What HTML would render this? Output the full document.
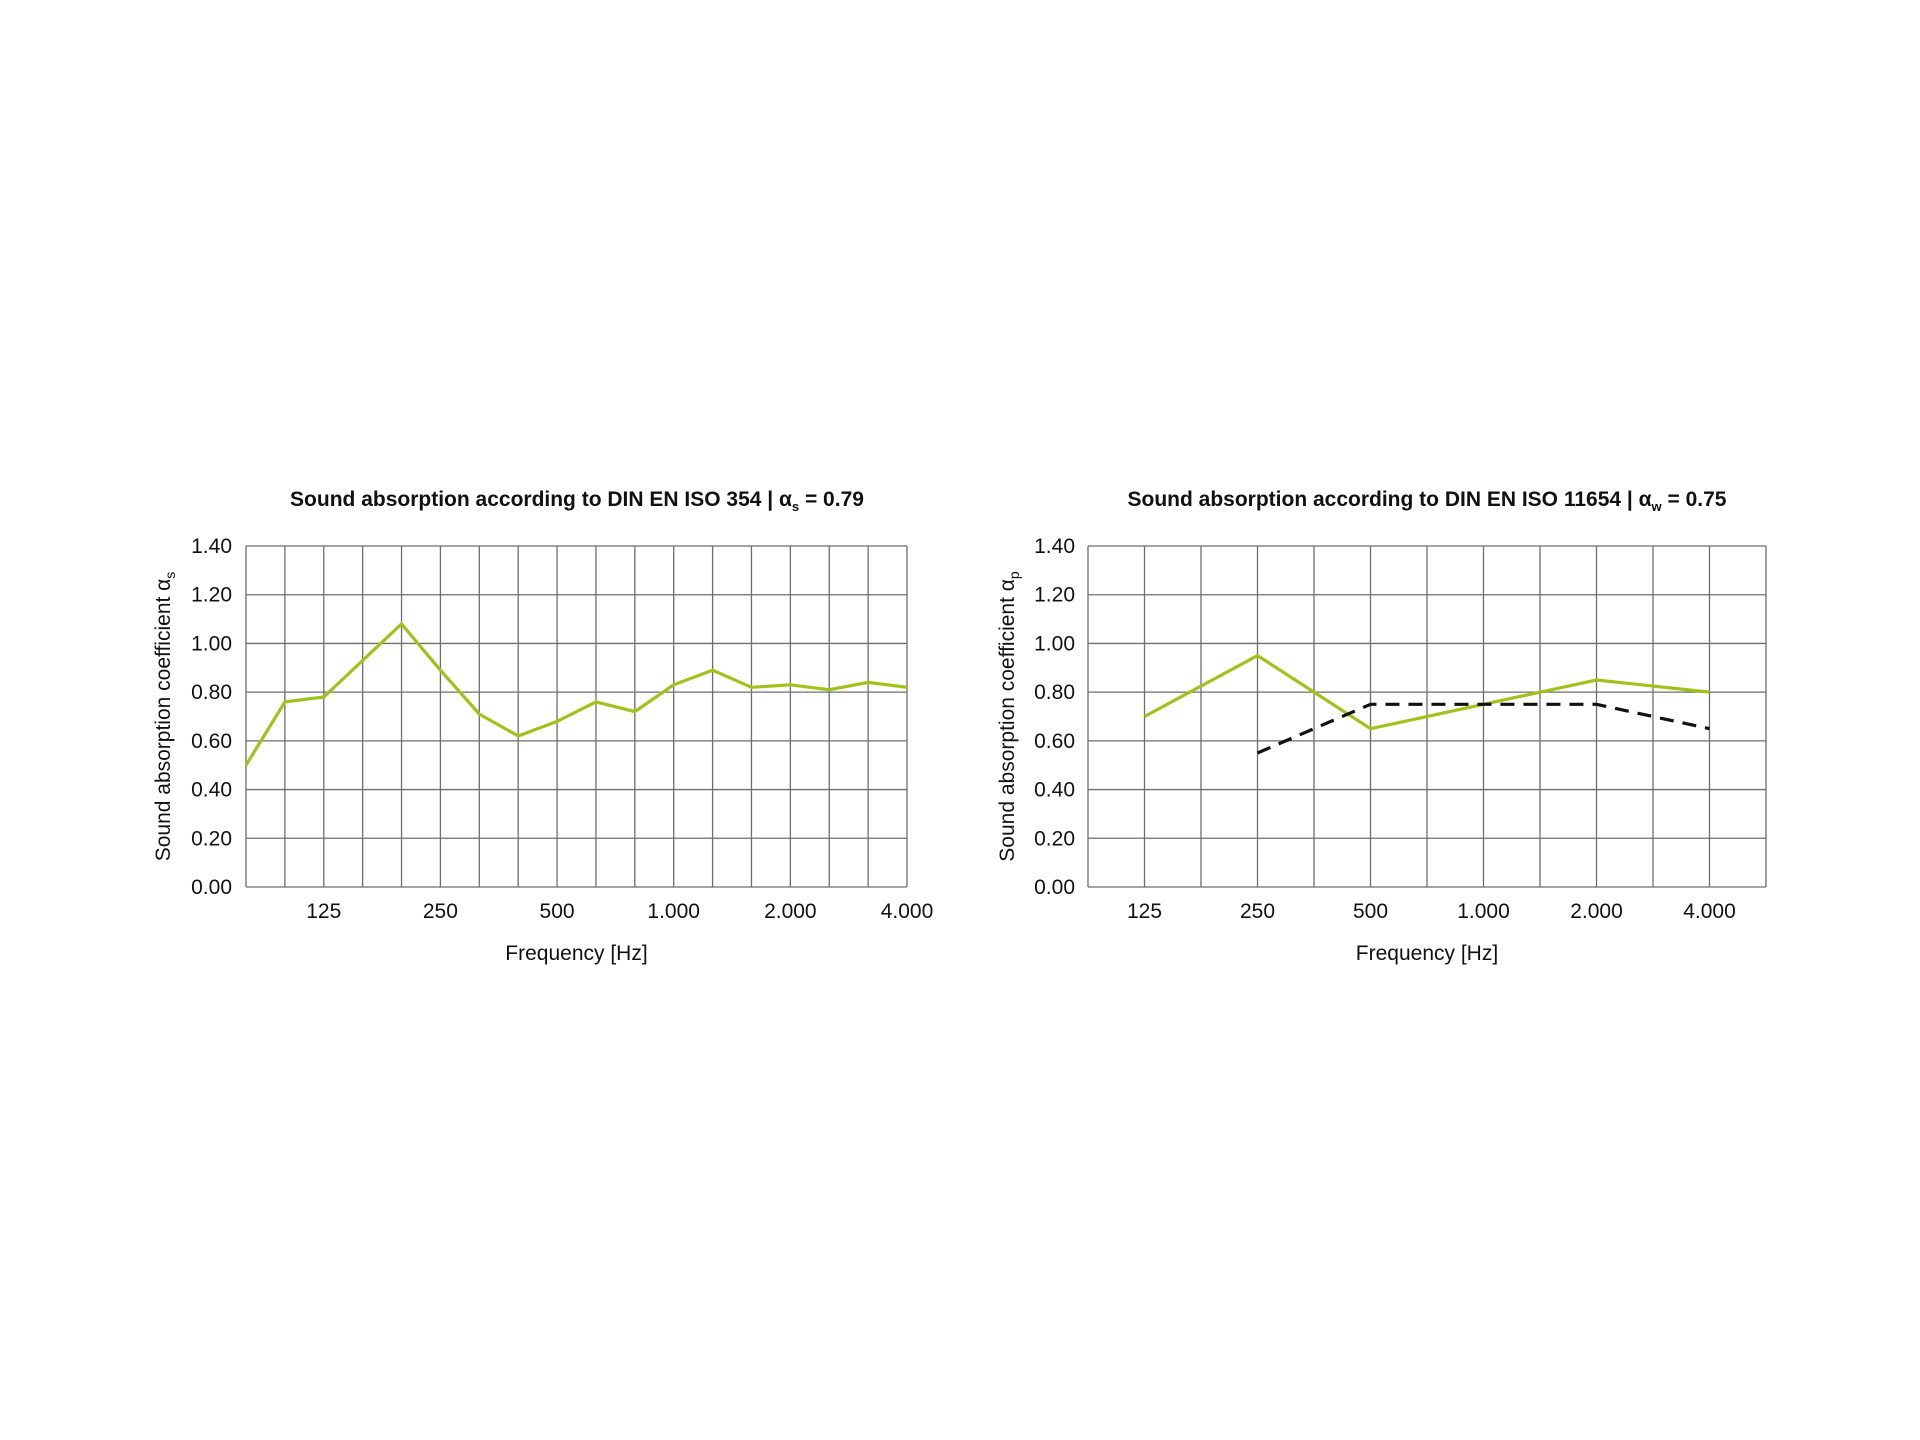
<!DOCTYPE html>
<html><head><meta charset="utf-8"><style>
html,body{margin:0;padding:0;background:#fff;}
svg{display:block;font-family:"Liberation Sans",sans-serif;}
</style></head><body>
<svg id="root" width="1920" height="1440" viewBox="0 0 1920 1440">
<g id="left"></g>
<g id="right"></g>
</svg>
<script>
const leftFreqs = ["80","100","125","160","200","250","315","400","500","630","800","1000","1250","1600","2000","2500","3150","4000"];
const leftValues = [0.50,0.76,0.78,0.93,1.08,0.89,0.71,0.62,0.68,0.76,0.72,0.83,0.89,0.82,0.83,0.81,0.84,0.82];
const leftTickLabels = ["","","125","","","250","","","500","","","1.000","","","2.000","","","4.000"];
const rightFreqs = ["","125","","250","","500","","1000","","2000","","4000"];
const rightPractical = [null,0.70,null,0.95,null,0.65,null,0.75,null,0.85,null,0.80];
const rightReference = [null,null,null,0.55,null,0.75,null,0.75,null,0.75,null,0.65];
const rightTickLabels = ["","125","","250","","500","","1.000","","2.000","","4.000"];
const yTicks = [0,0.2,0.4,0.6,0.8,1.0,1.2,1.4];
const yTickLabels = ["0.00","0.20","0.40","0.60","0.80","1.00","1.20","1.40"];

const NS="http://www.w3.org/2000/svg";
function mk(parent,tag,attrs,text){const e=document.createElementNS(NS,tag);for(const k in attrs)e.setAttribute(k,attrs[k]);if(text!==undefined)e.textContent=text;parent.appendChild(e);return e;}

function drawChart(g,cfg){
  const {x0,x1,y0,y1}=cfg;
  const yScale=v=>y1-(v/1.4)*(y1-y0);
  const grid=mk(g,'g',{});
  
  
  yTicks.forEach((t,i)=>{
    const y=yScale(t);
    const l=mk(grid,'line',{x1:x0,x2:x1,y1:y,y2:y,stroke:'#6e6e6e','stroke-width':1.3});
    
    
    const tx=mk(g,'text',{x:cfg.yLabelX,y:y+7,'text-anchor':'end','font-size':21,fill:'#111'},yTickLabels[i]);
    
    
  });
  const cols=cfg.cols;
  for(let i=0;i<=cols;i++){
    const x=x0+i*(x1-x0)/cols;
    const l=mk(grid,'line',{x1:x,x2:x,y1:y0,y2:y1,stroke:'#6e6e6e','stroke-width':1.3});
    
    
  }
  cfg.tickLabels.forEach((lab,i)=>{
    if(!lab)return;
    const tx=mk(g,'text',{x:cfg.xAt(i),y:y1+31,'text-anchor':'middle','font-size':21,fill:'#111'},lab);
    
    
  });
  const xt=mk(g,'text',{x:(x0+x1)/2,y:y1+73,'text-anchor':'middle','font-size':21,fill:'#111'},'Frequency [Hz]');
  
  
  const yt=mk(g,'text',{x:0,y:0,'text-anchor':'middle','font-size':21,fill:'#111',transform:`translate(${cfg.yTitleX},${(y0+y1)/2}) rotate(-90)`});
  yt.textContent='Sound absorption coefficient α';
  mk(yt,'tspan',{'font-size':14,dy:5},cfg.sub);
  
  
  const tt=mk(g,'text',{x:cfg.titleX,y:506,'text-anchor':'middle','font-size':21,'font-weight':'bold',fill:'#111'});
  tt.textContent=cfg.title+' α';
  mk(tt,'tspan',{'font-size':13,dy:5},cfg.titleSub);
  mk(tt,'tspan',{dy:-5},' = '+cfg.titleVal);
  
  
  cfg.series.forEach(s=>{
    let cur=[];
    s.values.forEach((v,i)=>{ if(v===null||v===undefined)return; cur.push(cfg.xAt(i).toFixed(1)+','+yScale(v).toFixed(1)); });
    const p=mk(g,'polyline',{points:cur.join(' '),fill:'none',stroke:s.color,'stroke-width':3.2,'stroke-linejoin':'miter','stroke-dasharray':s.dash||'none'});
    
    
  });
}

const L={x0:246,x1:907,y0:546,y1:887,cols:17};
L.xAt=i=>L.x0+i*(L.x1-L.x0)/17;
drawChart(document.getElementById('left'),Object.assign(L,{
  yLabelX:232,yTitleX:170,sub:'s',tickLabels:leftTickLabels,
  title:'Sound absorption according to DIN EN ISO 354 |',titleSub:'s',titleVal:'0.79',titleX:577,
  series:[{values:leftValues,color:'#9fc31a',name:'alpha-s-line'}]
}));
const R={x0:1088,x1:1766,y0:546,y1:887,cols:12};
R.xAt=i=>R.x0+i*(R.x1-R.x0)/12;
drawChart(document.getElementById('right'),Object.assign(R,{
  yLabelX:1075,yTitleX:1014,sub:'p',tickLabels:rightTickLabels,
  title:'Sound absorption according to DIN EN ISO 11654 |',titleSub:'w',titleVal:'0.75',titleX:1427,
  series:[{values:rightPractical,color:'#9fc31a',name:'alpha-p-line'},{values:rightReference,color:'#111',dash:'14 9',name:'reference-curve'}]
}));
</script>
</body></html>
